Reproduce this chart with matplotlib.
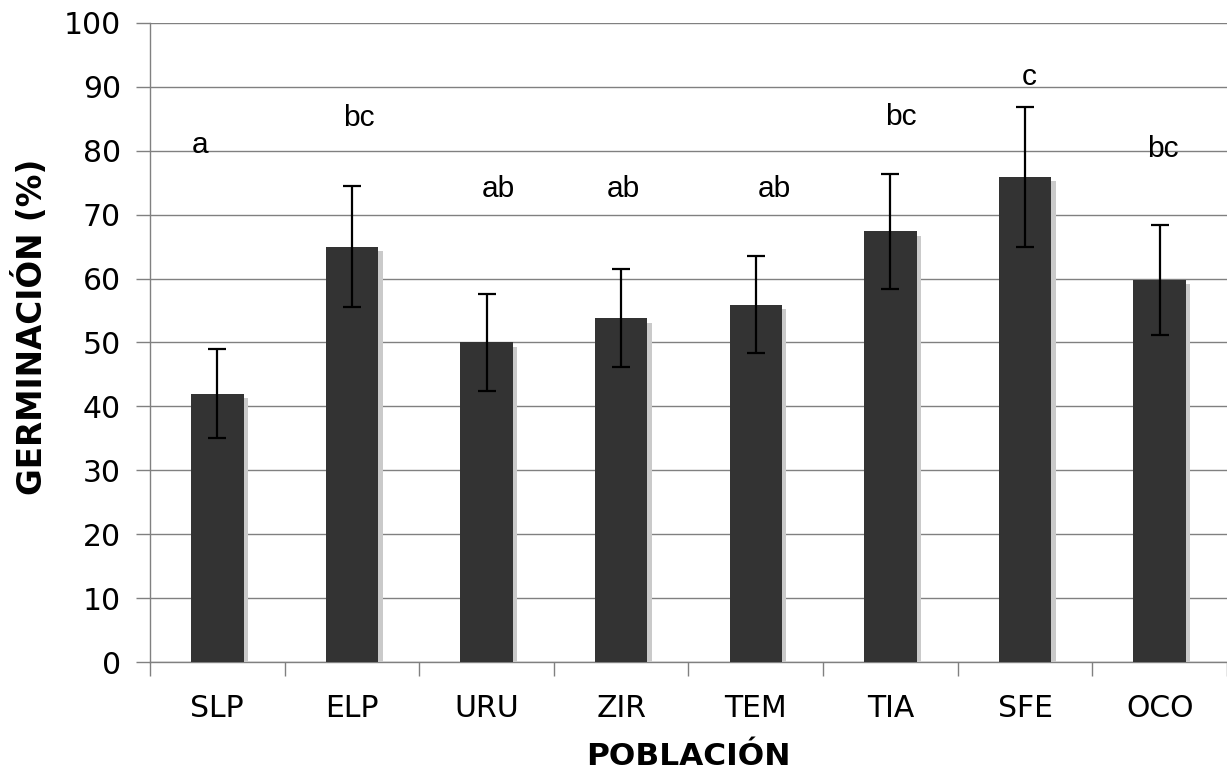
import matplotlib
matplotlib.use("Agg")
import matplotlib.pyplot as plt
import matplotlib.patheffects as pe
import numpy as np

poblaciones = ["SLP", "ELP", "URU", "ZIR", "TEM", "TIA", "SFE", "OCO"]
germinacion = [42.0, 65.0, 50.0, 53.8, 55.9, 67.4, 75.9, 59.8]
error = [7.0, 9.5, 7.6, 7.7, 7.6, 9.0, 10.9, 8.6]
letras = ["a", "bc", "ab", "ab", "ab", "bc", "c", "bc"]
letra_y = [79.7, 83.9, 72.8, 72.8, 72.8, 84.0, 90.3, 79.0]

plt.rcParams["font.family"] = ["DejaVu Sans"]

fig = plt.figure(figsize=(12.27, 7.74), dpi=100)
ax = fig.add_axes([0.1222, 0.1447, 0.8778, 0.8256])

x = np.arange(len(poblaciones))
shadow = [pe.SimplePatchShadow(offset=(3.2, -3.2), shadow_rgbFace="#cacaca", alpha=1.0), pe.Normal()]
bars = ax.bar(x, germinacion, width=0.39, color="#333333", zorder=3)
for b in bars:
    b.set_path_effects(shadow)
ax.errorbar(x, germinacion, yerr=error, fmt="none", ecolor="black",
            elinewidth=1.6, capsize=6.5, capthick=1.6, zorder=4)

# significance letters, nudged sideways as in the original layout
desplaz = [-0.125, 0.05, 0.09, 0.02, 0.137, 0.08, 0.03, 0.02]
for xi, d, t, yi in zip(x, desplaz, letras, letra_y):
    ax.text(xi + d, yi, t, ha="center", va="baseline", fontsize=21.5,
            family=["Liberation Sans", "DejaVu Sans"], zorder=5)

ax.set_xlim(-0.5, 7.5)
ax.set_ylim(0, 100)
ax.set_yticks(np.arange(0, 101, 10))
ax.yaxis.grid(True, color="#808080", linewidth=1.0, zorder=0)
ax.set_axisbelow(True)

# category boundaries get the tick marks, centres get the labels
ax.set_xticks(np.arange(-0.5, 8, 1))
ax.set_xticklabels([])
ax.set_xticks(x, minor=True)
ax.set_xticklabels(poblaciones, minor=True, fontsize=21.5)
ax.tick_params(axis="x", which="major", length=10, width=1, color="#808080", direction="out")
ax.tick_params(axis="x", which="minor", length=0, pad=23)
ax.tick_params(axis="y", length=10, width=1, color="#808080", labelsize=21.5, pad=11)

for s in ["top", "right"]:
    ax.spines[s].set_visible(False)
for s in ["left", "bottom"]:
    ax.spines[s].set_color("#808080")
    ax.spines[s].set_linewidth(1.0)

ax.set_xlabel("POBLACIÓN", fontsize=22.5, fontweight="bold", labelpad=14)
ax.set_ylabel("GERMINACIÓN (%)", fontsize=23.5, fontweight="bold")
ax.yaxis.set_label_coords(-0.094, 0.524)

fig.savefig("out.png", dpi=100)
plt.close(fig)
